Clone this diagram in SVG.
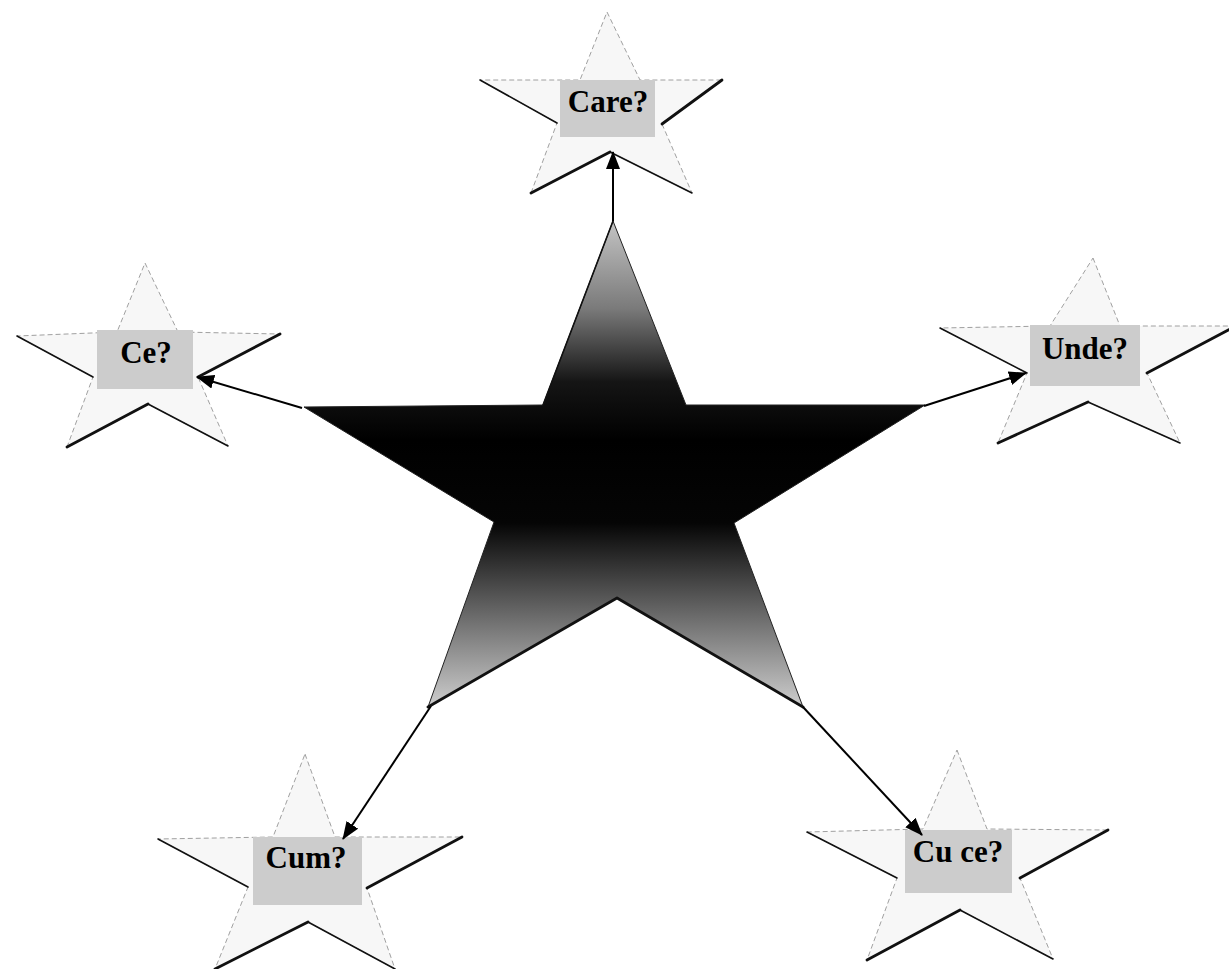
<svg xmlns="http://www.w3.org/2000/svg" width="1229" height="969" viewBox="0 0 1229 969">
<style>
.bg{fill:#ffffff}
.star{fill:#f7f7f7;stroke:#a0a0a0;stroke-width:1;stroke-dasharray:5 3}
.shade{fill:none;stroke:#111;stroke-linecap:round;stroke-linejoin:round}
.thin{stroke-width:1.6}
.thick{stroke-width:2.8}
.box{fill:#cccccc}
.lbl{font-family:"Liberation Serif","Times New Roman",serif;font-weight:bold;font-size:31px;fill:#000;text-anchor:middle}
.conn{stroke:#000;stroke-width:2;fill:none}
</style>
<defs>
<linearGradient id="big" x1="0" y1="221" x2="0" y2="708" gradientUnits="userSpaceOnUse">
<stop offset="0" stop-color="#c4c4c4"/>
<stop offset="0.18" stop-color="#7a7a7a"/>
<stop offset="0.33" stop-color="#151515"/>
<stop offset="0.45" stop-color="#000"/>
<stop offset="0.62" stop-color="#050505"/>
<stop offset="0.78" stop-color="#5a5a5a"/>
<stop offset="1" stop-color="#cfcfcf"/>
</linearGradient>
<marker id="arr" viewBox="0 0 18 14" refX="17" refY="7" markerWidth="18" markerHeight="14" markerUnits="userSpaceOnUse" orient="auto">
<path d="M0,0 L18,7 L0,14 Z" fill="#000"/>
</marker>
</defs>
<rect class="bg" x="0" y="0" width="1229" height="969"/>

<g id="center">
<polygon points="613,221 686,405 925,405 734,523 803,707 617,598 428,707 494,522 304,407 543,405" fill="url(#big)" stroke="#222" stroke-width="1"/>
<path class="shade thick" d="M428,707 L617,598 L803,707"/>
<path class="shade thin" d="M613,221 L543,405"/>
</g>

<g id="care">
<polygon class="star" points="607,12 640,80 722,80 662,124 692,193 610,152 531,193 557,123 480,80 580,80"/>
<path class="shade thin" d="M480,80 L557,123"/>
<path class="shade thick" d="M531,193 L610,152"/>
<path class="shade thin" d="M610,152 L692,193"/>
<path class="shade thick" d="M662,124 L722,80"/>
<rect class="box" x="560" y="80" width="95" height="57"/>
<text class="lbl" x="608" y="112">Care?</text>
</g>

<g id="ce">
<polygon class="star" points="145,263 178,332 280,334 198,377 228,446 148,404 67,447 93,377 17,336 117,332"/>
<path class="shade thin" d="M17,336 L93,377"/>
<path class="shade thick" d="M67,447 L148,404"/>
<path class="shade thin" d="M148,404 L228,446"/>
<path class="shade thick" d="M198,377 L280,334"/>
<rect class="box" x="97" y="330" width="96" height="59"/>
<text class="lbl" x="146" y="363">Ce?</text>
</g>

<g id="unde">
<polygon class="star" points="1093,258 1120,326 1236,326 1147,373 1180,443 1088,402 998,443 1027,373 940,328 1050,326"/>
<path class="shade thin" d="M940,328 L1027,373"/>
<path class="shade thick" d="M998,443 L1088,402"/>
<path class="shade thin" d="M1088,402 L1180,443"/>
<path class="shade thick" d="M1147,373 L1236,326"/>
<rect class="box" x="1030" y="325" width="110" height="61"/>
<text class="lbl" x="1085" y="359">Unde?</text>
</g>

<g id="cum">
<polygon class="star" points="305,754 335,837 462,837 367,888 395,969 308,922 215,969 248,887 158,839 273,837"/>
<path class="shade thin" d="M158,839 L248,887"/>
<path class="shade thick" d="M215,969 L308,922"/>
<path class="shade thin" d="M308,922 L395,969"/>
<path class="shade thick" d="M367,888 L462,837"/>
<rect class="box" x="253" y="837" width="109" height="68"/>
<text class="lbl" x="306" y="868">Cum?</text>
</g>

<g id="cuce">
<polygon class="star" points="957,750 987,829 1108,830 1020,878 1053,959 960,910 867,960 897,878 807,832 923,829"/>
<path class="shade thin" d="M807,832 L897,878"/>
<path class="shade thick" d="M867,960 L960,910"/>
<path class="shade thin" d="M960,910 L1053,959"/>
<path class="shade thick" d="M1020,878 L1108,830"/>
<rect class="box" x="905" y="830" width="107" height="63"/>
<text class="lbl" x="958" y="862">Cu ce?</text>
</g>

<g id="connectors">
<line class="conn" x1="613" y1="221" x2="613" y2="152" marker-end="url(#arr)"/>
<line class="conn" x1="302" y1="408" x2="197" y2="377" marker-end="url(#arr)"/>
<line class="conn" x1="924" y1="406" x2="1026" y2="373" marker-end="url(#arr)"/>
<line class="conn" x1="431" y1="706" x2="343" y2="839" marker-end="url(#arr)"/>
<line class="conn" x1="803" y1="707" x2="922" y2="835" marker-end="url(#arr)"/>
</g>
</svg>
